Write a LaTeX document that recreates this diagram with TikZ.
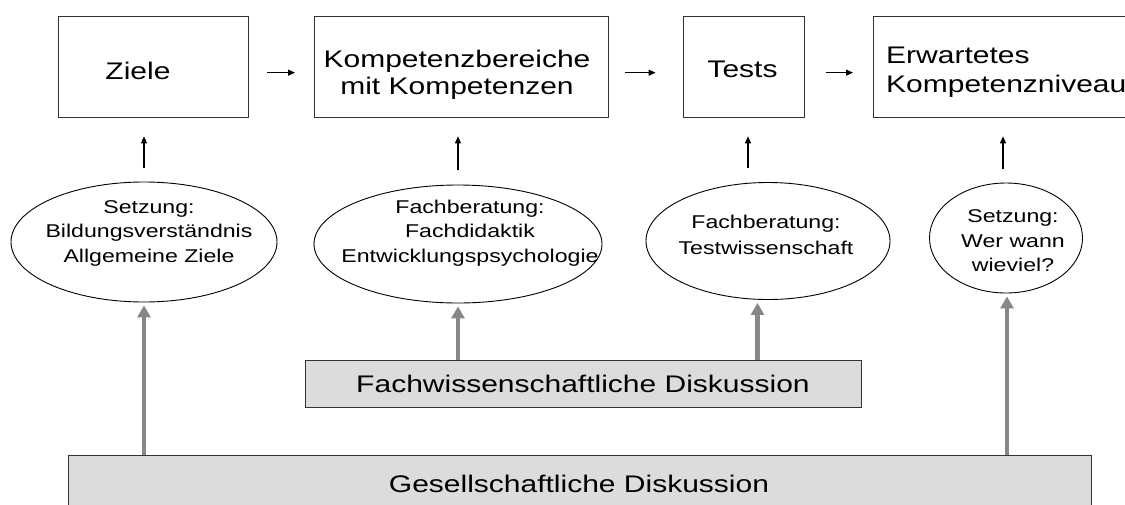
\documentclass[tikz,border=0pt]{standalone}
\usepackage{fontspec}
\setmainfont[FakeStretch=1.25]{Liberation Sans}
\usetikzlibrary{shapes.geometric,arrows.meta}
\definecolor{boxgray}{HTML}{DCDCDC}
\definecolor{arrgray}{HTML}{878787}
\definecolor{edgecol}{HTML}{333333}
\begin{document}
\begin{tikzpicture}[x=1pt,y=-1pt,
  topbox/.style={draw=edgecol,line width=1.3pt,inner sep=0pt,anchor=north west},
  discbox/.style={topbox,fill=boxgray},
  ell/.style={draw=black,line width=0.9pt,ellipse,inner sep=0pt},
  boxtext/.style={inner sep=0pt,align=center,font=\fontsize{24}{27}\selectfont},
  elltext/.style={inner sep=0pt,align=center,font=\fontsize{18.5}{24.5}\selectfont},
  barr/.style={draw=black,line width=1.2pt,-{Triangle[length=7pt,width=6pt]}},
  garr/.style={draw=arrgray,line width=4.5pt,-{Triangle[length=12pt,width=13pt]}}]
\useasboundingbox (0,0) rectangle (1125,504);
\fill[white] (0,0) rectangle (1125,504);
% top boxes
\node[topbox,minimum width=190pt,minimum height=101pt] (z) at (58,16) {};
\node[topbox,minimum width=294pt,minimum height=101pt] (k) at (314,16) {};
\node[topbox,minimum width=121pt,minimum height=101pt] (t) at (682.5,16) {};
\node[topbox,minimum width=262pt,minimum height=101pt] (w) at (873,16) {};
\node[boxtext] (zt) at (138,71) {Ziele};
\node[boxtext] (kt) at (457,75) {Kompetenzbereiche\\mit Kompetenzen};
\node[boxtext] (tt) at (742.5,69) {Tests};
\node[boxtext,anchor=west,align=left,font=\fontsize{24}{29}\selectfont] (wt) at (886,72) {Erwartetes\\Kompetenzniveau};
% discussion boxes
\node[discbox,minimum width=556pt,minimum height=47pt] (f) at (305,360) {};
\node[discbox,minimum width=1023pt,minimum height=60pt] (g) at (68,455) {};
\node[boxtext] (ft) at (583,383.5) {Fachwissenschaftliche Diskussion};
\node[boxtext] (gt) at (579,483.5) {Gesellschaftliche Diskussion};
% ellipses
\node[ell,minimum width=266pt,minimum height=120pt] (e1) at (144,242) {};
\node[ell,minimum width=288pt,minimum height=118pt] (e2) at (458,244) {};
\node[ell,minimum width=244pt,minimum height=117pt] (e3) at (768,241) {};
\node[ell,minimum width=153pt,minimum height=110pt] (e4) at (1006,238) {};
\node[elltext] (e1t) at (149,233) {Setzung:\\Bildungsverständnis\\Allgemeine Ziele};
\node[elltext] (e2t) at (470,233) {Fachberatung:\\Fachdidaktik\\Entwicklungspsychologie};
\node[elltext,font=\fontsize{18.5}{25.5}\selectfont] (e3t) at (766,235) {Fachberatung:\\Testwissenschaft};
\node[elltext] (e4t) at (1013,241) {Setzung:\\Wer wann\\wieviel?};
% horizontal arrows
\draw[barr,shorten <=18pt,shorten >=19pt] ([yshift=-5.5pt]z.east) -- ([yshift=-5.5pt]k.west);
\draw[barr,shorten <=16pt,shorten >=27pt] ([yshift=-5.5pt]k.east) -- ([yshift=-5.5pt]t.west);
\draw[barr,shorten <=21pt,shorten >=20pt] ([yshift=-5.5pt]t.east) -- ([yshift=-5.5pt]w.west);
% vertical black arrows
\draw[barr,shorten <=14pt,shorten >=18pt] (e1.north) -- (e1.north |- z.south);
\draw[barr,shorten <=15pt,shorten >=18pt] (e2.north) -- (e2.north |- k.south);
\draw[barr,shorten <=14pt,shorten >=18pt] ([xshift=-20pt]e3.north) -- ([xshift=-20pt]e3.north |- t.south);
\draw[barr,shorten <=14pt,shorten >=18pt] ([xshift=-3pt]e4.north) -- ([xshift=-3pt]e4.north |- w.south);
% gray arrows
\draw[garr,shorten >=3pt] (e1.south |- g.north) -- (e1.south);
\draw[garr,shorten >=3pt] (e2.south |- f.north) -- (e2.south);
\draw[garr,shorten >=3pt] ([xshift=-10.5pt]e3.south |- f.north) -- ([xshift=-10.5pt]e3.south);
\draw[garr,shorten >=3pt] ([xshift=1pt]e4.south |- g.north) -- ([xshift=1pt]e4.south);
\end{tikzpicture}
\end{document}
